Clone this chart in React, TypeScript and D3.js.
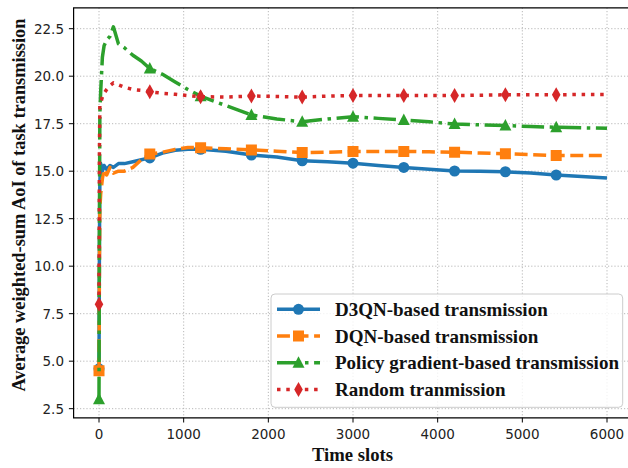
import React, { useEffect, useRef } from "react";
import * as d3 from "d3";

// time slots at which the averaged curves were sampled
const timeSlots = [0, 5, 10, 20, 40, 60, 90, 130, 170, 230, 300, 400, 500, 600, 750, 900, 1050, 1200,
  1500, 1800, 2100, 2400, 2700, 3000, 3300, 3600, 3900, 4200, 4500, 4800, 5100, 5400, 5700, 6000];

const d3qnValues = [4.6, 11.0, 14.4, 15.4, 15.0, 15.3, 15.1, 15.3, 15.2, 15.4, 15.4, 15.5, 15.6, 15.7, 15.95, 16.1, 16.15, 16.15,
  16.05, 15.85, 15.75, 15.55, 15.5, 15.42, 15.3, 15.2, 15.1, 15.01, 15.0, 14.97, 14.9, 14.8, 14.72, 14.64];
const dqnValues = [4.5, 10.0, 13.0, 13.8, 14.6, 15.1, 14.8, 15.2, 14.9, 15.0, 15.0, 15.2, 15.6, 15.9, 16.0, 16.15, 16.25, 16.24,
  16.18, 16.12, 16.05, 15.98, 16.0, 16.03, 16.04, 16.04, 16.02, 16.0, 15.96, 15.92, 15.87, 15.82, 15.82, 15.82];
const pgValues = [3.0, 12.0, 18.0, 19.2, 21.0, 21.6, 21.9, 22.1, 22.6, 21.7, 21.5, 21.1, 20.8, 20.4, 20.1, 19.7, 19.3, 18.95,
  18.45, 17.96, 17.75, 17.6, 17.75, 17.87, 17.78, 17.69, 17.6, 17.48, 17.44, 17.4, 17.35, 17.31, 17.28, 17.26];
const randomValues = [8.0, 16.0, 18.5, 18.6, 18.9, 19.1, 19.3, 19.5, 19.65, 19.55, 19.42, 19.3, 19.25, 19.18, 19.1, 19.05, 18.98, 18.92,
  18.9, 18.96, 18.93, 18.9, 18.95, 18.98, 18.98, 18.98, 18.98, 18.98, 19.0, 19.02, 19.02, 19.02, 19.04, 19.04];

const seriesNames = ["D3QN-based transmission", "DQN-based transmission",
  "Policy gradient-based transmission", "Random tranmission"];
const xTicks = [0, 1000, 2000, 3000, 4000, 5000, 6000];
const yTicks = [2.5, 5.0, 7.5, 10.0, 12.5, 15.0, 17.5, 20.0, 22.5];

const W = 628, H = 468;
const LW = 3.5;

const styles = [
  { color: "#1f77b4", dash: null, marker: "circle" },
  { color: "#ff7f0e", dash: [3.7 * LW, 1.6 * LW], marker: "square" },
  { color: "#2ca02c", dash: [6.4 * LW, 1.6 * LW, 1 * LW, 1.6 * LW], marker: "triangle" },
  { color: "#d62728", dash: [1 * LW, 1.65 * LW], marker: "thin_diamond" },
];

function markerPath(kind: string) {
  if (kind === "circle") return d3.symbol(d3.symbolCircle, 95)();
  if (kind === "square") return "M-5.5,-5.5L5.5,-5.5L5.5,5.5L-5.5,5.5Z";
  if (kind === "triangle") return "M0,-6.5L6,5L-6,5Z";
  return "M0,-7.5L4.3,0L0,7.5L-4.3,0Z";
}

export default function App() {
  const ref = useRef<SVGSVGElement>(null);

  useEffect(() => {
    document.body.style.margin = "0";
    const svg = d3.select(ref.current);
    svg.selectAll("*").remove();

    const x = d3.scaleLinear().domain([-300, 6300]).range([73.6, 632.4]);
    const y = d3.scaleLinear().domain([2.02, 23.6]).range([417.8, 7.8]);
    const [x0, x1] = x.range();
    const [yb, yt] = y.range();

    const defs = svg.append("defs");
    defs.append("clipPath").attr("id", "plotclip")
      .append("rect").attr("x", x0).attr("y", yt).attr("width", x1 - x0).attr("height", yb - yt);

    // grid
    const grid = svg.append("g");
    grid.selectAll(".gx").data(xTicks).enter().append("line")
      .attr("x1", d => x(d)).attr("x2", d => x(d)).attr("y1", yt).attr("y2", yb)
      .attr("stroke", "#b0b0b0").attr("stroke-width", 0.9).attr("stroke-dasharray", "1.2,2");
    grid.selectAll(".gy").data(yTicks).enter().append("line")
      .attr("x1", x0).attr("x2", x1).attr("y1", d => y(d)).attr("y2", d => y(d))
      .attr("stroke", "#b0b0b0").attr("stroke-width", 0.9).attr("stroke-dasharray", "1.2,2");

    const allSeries = [d3qnValues, dqnValues, pgValues, randomValues];
    const line = d3.line<number>().x((d, i) => x(timeSlots[i])).y(d => y(d));

    const plot = svg.append("g").attr("clip-path", "url(#plotclip)");
    allSeries.forEach((vals, si) => {
      const st = styles[si];
      plot.append("path")
        .attr("d", line(vals))
        .attr("fill", "none")
        .attr("stroke", st.color)
        .attr("stroke-width", LW)
        .attr("stroke-linejoin", "round")
        .attr("stroke-dasharray", st.dash ? st.dash.join(",") : null);
      const marks = timeSlots.map((t, i) => ({ t, v: vals[i] })).filter(p => p.t % 600 === 0 && p.t < 6000);
      plot.selectAll(".m" + si).data(marks).enter().append("path")
        .attr("d", markerPath(st.marker))
        .attr("transform", p => `translate(${x(p.t)},${y(p.v)})`)
        .attr("fill", st.color);
    });

    // spines
    svg.append("path")
      .attr("d", `M${x1},${yt}L${x0},${yt}L${x0},${yb}L${x1},${yb}`)
      .attr("fill", "none").attr("stroke", "#000").attr("stroke-width", 1.2);

    const tickFont = "'DejaVu Sans', sans-serif";
    const xt = svg.append("g");
    xt.selectAll("line").data(xTicks).enter().append("line")
      .attr("x1", d => x(d)).attr("x2", d => x(d)).attr("y1", yb).attr("y2", yb + 4.7)
      .attr("stroke", "#000").attr("stroke-width", 1);
    xt.selectAll("text").data(xTicks).enter().append("text")
      .attr("x", d => x(d)).attr("y", 438.5)
      .attr("text-anchor", "middle").attr("font-family", tickFont).attr("font-size", 13.5)
      .attr("fill", "#222").text(d => d);

    const yt2 = svg.append("g");
    yt2.selectAll("line").data(yTicks).enter().append("line")
      .attr("x1", x0 - 4.7).attr("x2", x0).attr("y1", d => y(d)).attr("y2", d => y(d))
      .attr("stroke", "#000").attr("stroke-width", 1);
    yt2.selectAll("text").data(yTicks).enter().append("text")
      .attr("x", 64).attr("y", d => y(d)).attr("dy", "0.36em")
      .attr("text-anchor", "end").attr("font-family", tickFont).attr("font-size", 13.5)
      .attr("fill", "#222").text(d => d.toFixed(1));

    const labelFont = "'Liberation Serif', serif";
    svg.append("text")
      .attr("x", 352.5).attr("y", 461)
      .attr("text-anchor", "middle").attr("font-family", labelFont).attr("font-weight", "bold")
      .attr("font-size", 18.7).attr("fill", "#111").text("Time slots");
    svg.append("text")
      .attr("transform", `translate(25,205) rotate(-90)`)
      .attr("text-anchor", "middle").attr("font-family", labelFont).attr("font-weight", "bold")
      .attr("font-size", 18.4).attr("fill", "#111").text("Average weighted-sum AoI of task transmission");

    // legend
    const lg = svg.append("g");
    lg.append("rect")
      .attr("x", 271).attr("y", 294).attr("width", 351.7).attr("height", 113.3).attr("rx", 4)
      .attr("fill", "rgba(255,255,255,0.8)").attr("stroke", "#cccccc").attr("stroke-width", 1);
    seriesNames.forEach((name, i) => {
      const st = styles[i];
      const cy = 309.3 + i * 26.7;
      lg.append("line").attr("x1", 277).attr("x2", 320).attr("y1", cy).attr("y2", cy)
        .attr("stroke", st.color).attr("stroke-width", LW)
        .attr("stroke-dasharray", st.dash ? st.dash.join(",") : null);
      lg.append("path").attr("d", markerPath(st.marker))
        .attr("transform", `translate(298.5,${cy})`).attr("fill", st.color);
      lg.append("text").attr("x", 335).attr("y", cy).attr("dy", "0.35em")
        .attr("font-family", labelFont).attr("font-weight", "bold").attr("font-size", 19)
        .attr("fill", "#111").text(name);
    });
  }, []);

  return <svg ref={ref} width={W} height={H} style={{ display: "block" }} />;
}
